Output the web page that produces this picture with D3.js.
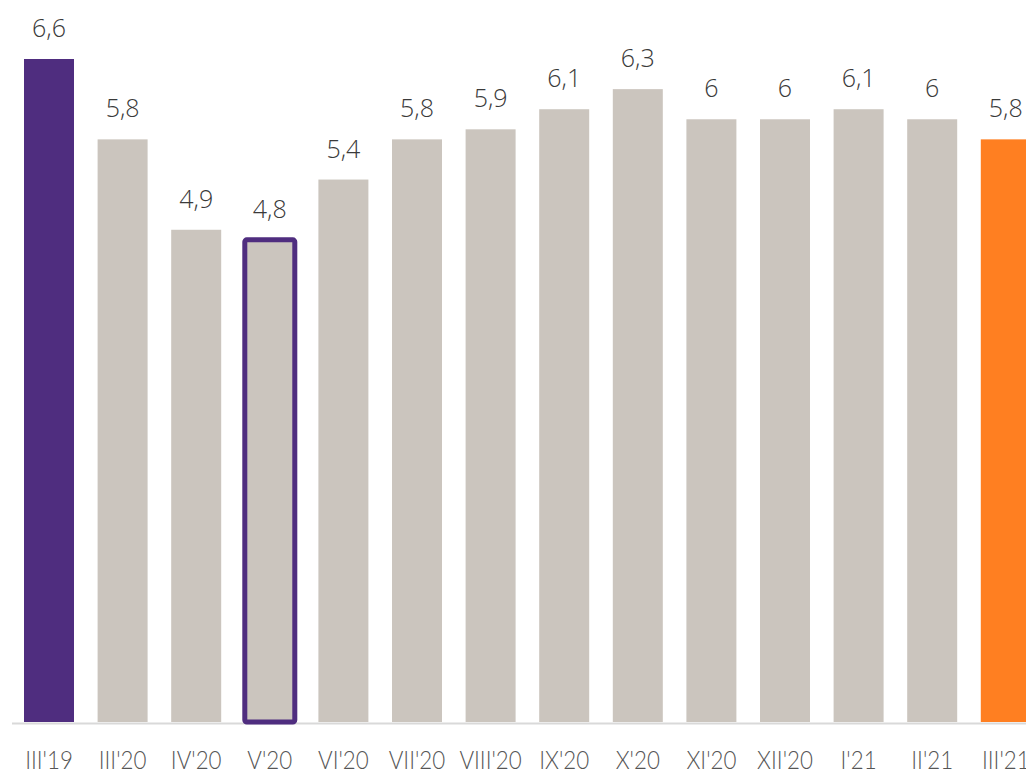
<!DOCTYPE html>
<html>
<head>
<meta charset="utf-8">
<script src="https://cdn.jsdelivr.net/npm/d3@7/dist/d3.min.js"></script>
<style>
html,body{margin:0;padding:0;background:#fff;overflow:hidden;}
svg{display:block;}
</style>
</head>
<body>
<svg id="chart" width="1026" height="774"></svg>
<script>
const categories = ["III'19","III'20","IV'20","V'20","VI'20","VII'20","VIII'20","IX'20","X'20","XI'20","XII'20","I'21","II'21","III'21"];
const values = [6.6,5.8,4.9,4.8,5.4,5.8,5.9,6.1,6.3,6,6,6.1,6,5.8];
const valueLabels = ["6,6","5,8","4,9","4,8","5,4","5,8","5,9","6,1","6,3","6","6","6,1","6","5,8"];
const barKinds = ["first","normal","normal","outlined","normal","normal","normal","normal","normal","normal","normal","normal","normal","last"];

const colors = {first:"#4f2d7f", normal:"#cbc5be", outlined:"#cbc5be", last:"#ff7f21"};

const svg = d3.select("#chart");
const step = 73.6, bw = 50, x0 = 24;
const x = d3.scaleBand()
  .domain(categories)
  .range([x0, x0 + (categories.length - 1) * step + bw])
  .paddingInner((step - bw) / step)
  .paddingOuter(0);
const y = d3.scaleLinear().domain([0, 6.6]).range([722, 59]);

const data = categories.map((c, i) => ({c, v: values[i], label: valueLabels[i], kind: barKinds[i]}));

// axis line
svg.append("line")
  .attr("x1", 12).attr("x2", 1026)
  .attr("y1", 723.5).attr("y2", 723.5)
  .attr("stroke", "#d9d9d9").attr("stroke-width", 2);

// bars
svg.selectAll("rect.bar").data(data).enter().append("rect")
  .attr("class", "bar")
  .attr("x", d => x(d.c))
  .attr("y", d => y(d.v))
  .attr("width", x.bandwidth())
  .attr("height", d => y(0) - y(d.v))
  .attr("fill", d => colors[d.kind]);

// outline for highlighted bar
svg.selectAll("rect.outline").data(data.filter(d => d.kind === "outlined")).enter().append("rect")
  .attr("class", "outline")
  .attr("x", d => x(d.c))
  .attr("y", d => y(d.v))
  .attr("width", x.bandwidth())
  .attr("height", d => y(0) - y(d.v))
  .attr("rx", 2)
  .attr("fill", "none")
  .attr("stroke", colors.first)
  .attr("stroke-width", 5);

// value labels
svg.selectAll("text.val").data(data).enter().append("text")
  .attr("class", "val")
  .attr("x", d => x(d.c) + x.bandwidth() / 2)
  .attr("y", d => y(d.v) - 22)
  .attr("text-anchor", "middle")
  .attr("font-family", "'Open Sans', sans-serif")
  .attr("font-weight", 300)
  .attr("font-size", 25)
  .attr("fill", "#3a3a3a")
  .text(d => d.label);

// category labels
const xAxis = d3.axisBottom(x).tickSize(0).tickPadding(0);
const g = svg.append("g").attr("transform", "translate(0,769)").call(xAxis);
g.select(".domain").remove();
g.selectAll("text")
  .attr("y", 0)
  .attr("dy", 0)
  .attr("transform", "scale(0.86,1)")
  .attr("font-family", "Lato, 'Liberation Sans', sans-serif")
  .attr("font-weight", 300)
  .attr("font-size", 26)
  .attr("fill", "#555555");
</script>
</body>
</html>
